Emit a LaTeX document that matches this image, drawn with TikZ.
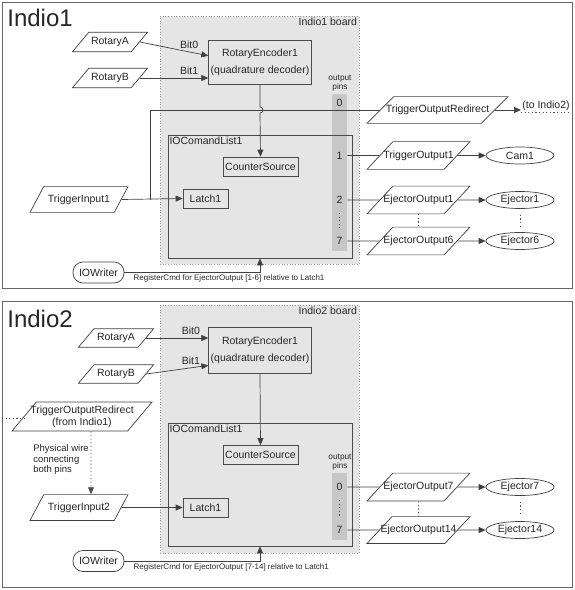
\documentclass[tikz,border=0pt]{standalone}
\usepackage{fontspec}
\setmainfont{Liberation Sans}
\usetikzlibrary{calc}
\usetikzlibrary{arrows.meta,positioning,shapes.geometric}

\begin{document}
\begin{tikzpicture}[x=1pt,y=-1pt,line width=0.7pt,>=Triangle,
    font=\fontsize{10.5}{12}\selectfont,text=black!85]
      \tikzstyle{panel}=[draw=black!60,line width=0.8pt]
      \tikzstyle{title}=[font=\fontsize{24}{28}\selectfont,anchor=north west,inner sep=0pt]
      \tikzstyle{board}=[draw=black!40,dotted,fill=black!10,inner sep=0pt]
      \tikzstyle{block}=[draw=black!70,rectangle,inner sep=2pt]
      \tikzstyle{io}=[draw=black!75,fill=white,trapezium,trapezium left angle=47,trapezium right angle=133,
        trapezium stretches body,inner xsep=-14pt,inner ysep=9pt,align=center]
      \tikzstyle{dev}=[draw=black!75,fill=white,ellipse,inner sep=0pt,minimum width=68,minimum height=17]
      \tikzstyle{term}=[draw=black!75,fill=white,rounded corners=10pt,minimum width=51,minimum height=21]
      \tikzstyle{wire}=[draw=black!75,-{Triangle[length=7pt,width=6pt]}]
      \tikzstyle{link}=[draw=black!75]
      \tikzstyle{dots}=[draw=black!70,dash pattern=on 1.2pt off 2.4pt]
      \tikzstyle{pinbar}=[fill=black!22,minimum width=15,inner sep=0pt]
      \tikzstyle{small}=[font=\fontsize{8.3}{9}\selectfont,align=center,inner sep=0pt]
      \tikzstyle{note}=[font=\fontsize{8}{9}\selectfont,anchor=north west,inner sep=0pt]

      \useasboundingbox (0,0) rectangle (575,590);

      % ---------------- Indio1 ----------------
      \draw[panel] (2,2) rectangle (572.5,288);
      \node[title] (t1) at (7,9) {Indio1};
      \node[board,minimum width=199,minimum height=248] (b1) at (259.5,140) {};
      \node[anchor=north east,inner sep=2pt] (b1lab) at (b1.north east) {Indio1 board};

      \node[block,fill=black!10,minimum width=102,minimum height=44,align=center] (enc1) at (260,62)
        {RotaryEncoder1\\[5pt](quadrature decoder)};
      \node[io,trapezium left angle=50,trapezium right angle=130,minimum width=75,inner ysep=5pt] (ra1) at (110,42) {RotaryA};
      \node[io,trapezium left angle=50,trapezium right angle=130,minimum width=75,inner ysep=5pt] (rb1) at (110,78) {RotaryB};

      \node[small] (op1) at (340,83.5) {output\\pins};
      \node[pinbar,minimum height=157] (bar1) at (339.5,172.5) {};
      \node[block,minimum width=184,minimum height=123] (icl1) at (260,196.5) {};
      \node[anchor=north west,inner sep=1.5pt] (icl1lab) at (icl1.north west) {IOComandList1};
      \node[block,fill=black!10,minimum width=75,minimum height=19] (cs1) at (260.5,166.5) {CounterSource};
      \node[block,fill=black!10,minimum width=45,minimum height=19] (l1) at (205.5,198.5) {Latch1};

      \node (p10) at (339.5,103) {0};
      \node (p11) at (339.5,155.5) {1};
      \node (p12) at (339.5,200) {2};
      \node (p17) at (339.5,241) {7};

      \node[io,trapezium left angle=62,trapezium right angle=118,minimum width=98,inner ysep=8pt] (ti1) at (79,199.5) {TriggerInput1};
      \node[io,trapezium left angle=45,trapezium right angle=135,minimum width=141,inner ysep=8.5pt] (tor1) at (437.5,110) {TriggerOutputRedirect};
      \node[anchor=south west,inner sep=1pt] (toi2) at (521,112.5) {(to Indio2)};

      \node[io,minimum width=103] (to1) at (418.5,155.5) {TriggerOutput1};
      \node[dev] (cam1) at (520,155.5) {Cam1};
      \node[io,minimum width=103] (eo1) at (418.5,200) {EjectorOutput1};
      \node[dev] (ej1) at (520,200) {Ejector1};
      \node[io,minimum width=103] (eo6) at (418.5,241) {EjectorOutput6};
      \node[dev] (ej6) at (520,241) {Ejector6};

      \node[term] (iow1) at (98.5,272.5) {IOWriter};
      \node[note] (reg1) at ([xshift=9pt,yshift=-2pt]iow1.east) {RegisterCmd for EjectorOutput [1-6] relative to Latch1};

      \coordinate (col1) at (150,0);
      \coordinate (tap1) at (ti1.east -| col1);
      \coordinate (hop1) at (enc1.south |- tor1.west);

      \draw[wire] (ra1.east) -- node[above,pos=0.72]{Bit0} ($(enc1.north west)!0.36!(enc1.south west)$);
      \draw[wire] (rb1.east) -- node[above,pos=0.72]{Bit1} (rb1.east -| enc1.west);
      \draw[wire] (ti1.east) -- (l1.west);
      \draw[link] (tap1) |- (tor1.west);
      \draw[wire] (enc1.south) -- ([yshift=3pt]hop1) arc[start angle=90,end angle=-90,radius=3pt] -- (cs1.north);
      \draw[wire] (tor1.east) -- (tor1.east -| toi2.west);
      \draw[dots] (toi2.south west) -- (toi2.south east);
      \draw[link] (p11 -| bar1.east) -- (to1.west);
      \draw[link] (p12 -| bar1.east) -- (eo1.west);
      \draw[link] (p17 -| bar1.east) -- (eo6.west);
      \draw[wire] (to1.east) -- (cam1.west);
      \draw[wire] (eo1.east) -- (ej1.west);
      \draw[wire] (eo6.east) -- (ej6.west);
      \draw[dots] (eo1.south) -- (eo6.north);
      \draw[dots,shorten <=6pt,shorten >=6pt] (ej1.south) -- (ej6.north);
      \draw[dots,shorten <=13pt,shorten >=13pt] (p12.center) -- (p17.center);
      \draw[wire] (iow1.east) -| (icl1.south);

      % ---------------- Indio2 ----------------
      \draw[panel] (2,301) rectangle (572.5,587);
      \node[title] (t2) at (7,310) {Indio2};
      \node[board,minimum width=199,minimum height=248] (b2) at (259.5,429) {};
      \node[anchor=north east,inner sep=2pt] (b2lab) at (b2.north east) {Indio2 board};

      \node[block,fill=black!10,minimum width=102,minimum height=46,align=center] (enc2) at (260,350)
        {RotaryEncoder1\\[5pt](quadrature decoder)};
      \node[io,trapezium left angle=50,trapezium right angle=130,minimum width=75,inner ysep=4.5pt] (ra2) at (116,338) {RotaryA};
      \node[io,trapezium left angle=50,trapezium right angle=130,minimum width=75,inner ysep=4.5pt] (rb2) at (116,374) {RotaryB};

      \node[small] (op2) at (340,462.5) {output\\pins};
      \node[pinbar,minimum height=67] (bar2) at (339.5,506.5) {};
      \node[block,minimum width=184,minimum height=123] (icl2) at (260,484.5) {};
      \node[anchor=north west,inner sep=1.5pt] (icl2lab) at (icl2.north west) {IOComandList1};
      \node[block,fill=black!10,minimum width=75,minimum height=19] (cs2) at (260.5,455) {CounterSource};
      \node[block,fill=black!10,minimum width=45,minimum height=19] (l2) at (205.5,507.5) {Latch1};

      \node (p20) at (339.5,487) {0};
      \node (p27) at (339.5,530) {7};

      \node[io,trapezium left angle=50,trapezium right angle=130,minimum width=140,inner ysep=3.6pt] (torf) at (82,416.5)
        {TriggerOutputRedirect\\(from Indio1)};
      \node[io,trapezium left angle=62,trapezium right angle=118,minimum width=98,inner ysep=8pt] (ti2) at (79,507.5) {TriggerInput2};
      \node[anchor=north west,align=left,inner sep=0pt,font=\fontsize{9.5}{10.8}\selectfont] (wire2) at (33,444)
        {Physical wire\\connecting\\both pins};
      \coordinate (edge2) at (2,418);

      \node[io,minimum width=103] (eo7) at (418.5,487) {EjectorOutput7};
      \node[dev] (ej7) at (520,487) {Ejector7};
      \node[io,minimum width=103,inner ysep=8.5pt] (eo14) at (418.5,530) {EjectorOutput14};
      \node[dev] (ej14) at (520,530) {Ejector14};

      \node[term] (iow2) at (98.5,561) {IOWriter};
      \node[note] (reg2) at ([xshift=9pt,yshift=-2pt]iow2.east) {RegisterCmd for EjectorOutput [7-14] relative to Latch1};

      \draw[wire] (ra2.east) -- node[above,pos=0.72]{Bit0} (ra2.east -| enc2.west);
      \draw[wire] (rb2.east) -- node[above,pos=0.72]{Bit1} ($(enc2.north west)!0.83!(enc2.south west)$);
      \draw[wire] (enc2.south) -- (cs2.north);
      \draw[wire] (ti2.east) -- (l2.west);
      \draw[dots] (edge2) -- (edge2 -| torf.west);
      \draw[dots,-{Triangle[length=7pt,width=6pt]}] ([xshift=9pt]torf.south) -- ([xshift=12pt]ti2.north);
      \draw[link] (p20 -| bar2.east) -- (eo7.west);
      \draw[link] (p27 -| bar2.east) -- (eo14.west);
      \draw[wire] (eo7.east) -- (ej7.west);
      \draw[wire] (eo14.east) -- (ej14.west);
      \draw[dots] (eo7.south) -- (eo14.north);
      \draw[dots,shorten <=6pt,shorten >=6pt] (ej7.south) -- (ej14.north);
      \draw[dots,shorten <=13pt,shorten >=13pt] (p20.center) -- (p27.center);
      \draw[wire] (iow2.east) -| (icl2.south);
    \end{tikzpicture}
\end{document}
